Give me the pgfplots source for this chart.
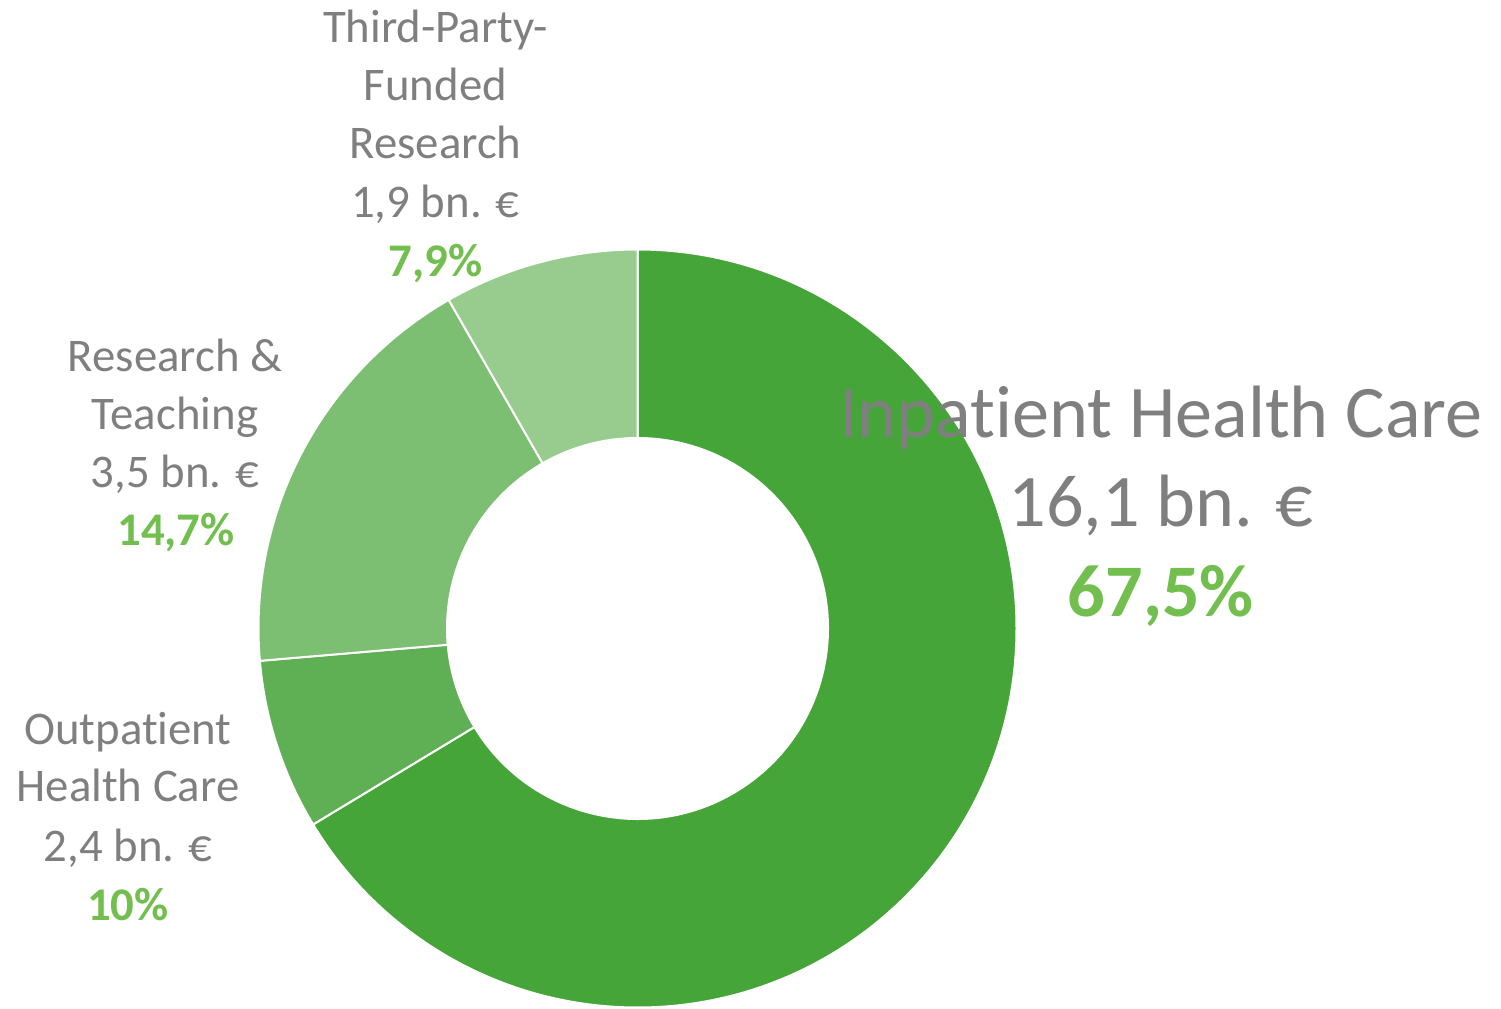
\documentclass[border=0pt]{standalone}
\usepackage{fontspec}
\setmainfont{Carlito}[Ligatures={NoCommon,NoRare,NoContextual}]
\usepackage{pgfplots}
\usepackage{pgfplotstable}
\pgfplotsset{compat=1.18}
\definecolor{slice0}{HTML}{46A538}
\definecolor{slice1}{HTML}{5FAF55}
\definecolor{slice2}{HTML}{7DBF72}
\definecolor{slice3}{HTML}{98CC8F}
\definecolor{txtgray}{HTML}{7F7F7F}
\definecolor{pctgreen}{HTML}{72BE4E}
% share of the ring drawn for each slice (percent, clockwise from the top)
\pgfplotstableread{
value
66.35
7.29
18.06
8.31
}\slices
\newcommand\sm{\fontsize{23.4pt}{28pt}\selectfont}
\newcommand\bg{\fontsize{37.1pt}{45pt}\selectfont}
\begin{document}
\begin{tikzpicture}
\useasboundingbox (0,0) rectangle (750.5pt,504pt);
\begin{axis}[x=0.5pt, y=0.5pt, xmin=0, xmax=1501, ymin=0, ymax=1008,
  hide axis, clip=false, at={(0pt,0pt)}, anchor=south west]
\def\curang{90}
\pgfplotsforeachungrouped \i in {0,...,3}{
  \pgfplotstablegetelem{\i}{value}\of\slices
  \pgfmathsetmacro\aone{\curang}
  \pgfmathsetmacro\atwo{\curang-3.6*\pgfplotsretval}
  \edef\temp{\noexpand\fill[slice\i, draw=white, line width=1pt]
    ([shift={(\aone:189.5pt)}]axis cs:637.5,379.5)
    arc[start angle=\aone, end angle=\atwo, radius=189.5pt]
    -- ([shift={(\atwo:95.25pt)}]axis cs:637.5,379.5)
    arc[start angle=\atwo, end angle=\aone, radius=95.25pt] -- cycle;}
  \temp
  \global\let\curang\atwo
}
% Third-Party-Funded Research
\node[anchor=base, txtgray, inner sep=0pt] at (axis cs:435.5,965) {\sm Third-Party-};
\node[anchor=base, txtgray, inner sep=0pt] at (axis cs:435.5,907) {\sm Funded};
\node[anchor=base, txtgray, inner sep=0pt] at (axis cs:435.5,849) {\sm Research};
\node[anchor=base, txtgray, inner sep=0pt] at (axis cs:435.5,790) {\sm 1,9 bn. €};
\node[anchor=base, pctgreen, inner sep=0pt] at (axis cs:435.5,731) {\sm\bfseries 7,9\%};
% Research & Teaching
\node[anchor=base, txtgray, inner sep=0pt] at (axis cs:175,636) {\sm Research \&};
\node[anchor=base, txtgray, inner sep=0pt] at (axis cs:175,578) {\sm Teaching};
\node[anchor=base, txtgray, inner sep=0pt] at (axis cs:175,520) {\sm 3,5 bn. €};
\node[anchor=base, pctgreen, inner sep=0pt] at (axis cs:176,462) {\sm\bfseries 14,7\%};
% Outpatient Health Care
\node[anchor=base, txtgray, inner sep=0pt] at (axis cs:128,263) {\sm Outpat\kern0pt ient};
\node[anchor=base, txtgray, inner sep=0pt] at (axis cs:128,206) {\sm Health Care};
\node[anchor=base, txtgray, inner sep=0pt] at (axis cs:128,146) {\sm 2,4 bn. €};
\node[anchor=base, pctgreen, inner sep=0pt] at (axis cs:128,88) {\sm\bfseries 10\%};
% Inpatient Health Care
\node[anchor=base, txtgray, inner sep=0pt] at (axis cs:1161,570) {\bg Inpat\kern0pt ient Health Care};
\node[anchor=base, txtgray, inner sep=0pt] at (axis cs:1161,481) {\bg 16,1 bn. €};
\node[anchor=base, pctgreen, inner sep=0pt] at (axis cs:1161,391) {\bg\bfseries 67,5\%};
\end{axis}
\end{tikzpicture}
\end{document}
